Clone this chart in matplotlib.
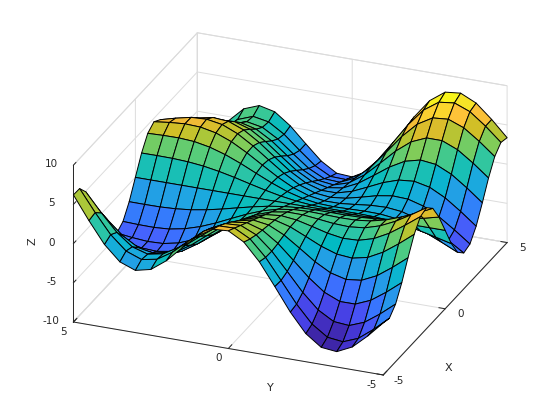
import numpy as np
import matplotlib
matplotlib.use("Agg")
import matplotlib.pyplot as plt
from matplotlib.colors import LinearSegmentedColormap, Normalize

plt.rcParams["axes.unicode_minus"] = False

x_vals = [-5, -4.5, -4, -3.5, -3, -2.5, -2, -1.5, -1, -0.5, 0, 0.5, 1, 1.5, 2, 2.5, 3, 3.5, 4, 4.5, 5]
y_vals = [-5, -4.5, -4, -3.5, -3, -2.5, -2, -1.5, -1, -0.5, 0, 0.5, 1, 1.5, 2, 2.5, 3, 3.5, 4, 4.5, 5]

# one row per y value, left to right in x
z_rows = [
    [-3.37, -3.61, -2.65, -0.76, 1.56, 3.70, 5.12, 5.42, 4.49, 2.54, 0, -2.54, -4.49, -5.42, -5.12, -3.70, -1.56, 0.76, 2.65, 3.61, 3.37],
    [-5.37, -5.35, -4.25, -2.32, 0.00, 2.16, 3.67, 4.17, 3.58, 2.05, 0, -2.05, -3.58, -4.17, -3.67, -2.16, 0.00, 2.32, 4.25, 5.35, 5.37],
    [-7.11, -6.85, -5.64, -3.69, -1.40, 0.76, 2.33, 3.01, 2.72, 1.59, 0, -1.59, -2.72, -3.01, -2.33, -0.76, 1.40, 3.69, 5.64, 6.85, 7.11],
    [-8.04, -7.63, -6.40, -4.51, -2.32, -0.25, 1.31, 2.09, 2.01, 1.21, 0, -1.21, -2.01, -2.09, -1.31, 0.25, 2.32, 4.51, 6.40, 7.63, 8.04],
    [-7.83, -7.39, -6.23, -4.52, -2.55, -0.68, 0.75, 1.50, 1.53, 0.94, 0, -0.94, -1.53, -1.50, -0.75, 0.68, 2.55, 4.52, 6.23, 7.39, 7.83],
    [-6.41, -6.04, -5.09, -3.68, -2.05, -0.50, 0.67, 1.29, 1.30, 0.80, 0, -0.80, -1.30, -1.29, -0.67, 0.50, 2.05, 3.68, 5.09, 6.04, 6.41],
    [-4.00, -3.83, -3.18, -2.16, -0.97, 0.16, 0.99, 1.37, 1.27, 0.75, 0, -0.75, -1.27, -1.37, -0.99, -0.16, 0.97, 2.16, 3.18, 3.83, 4.00],
    [-1.08, -1.15, -0.85, -0.28, 0.42, 1.07, 1.51, 1.60, 1.33, 0.76, 0, -0.76, -1.33, -1.60, -1.51, -1.07, -0.42, 0.28, 0.85, 1.15, 1.08],
    [1.74, 1.45, 1.40, 1.54, 1.76, 1.95, 1.99, 1.81, 1.38, 0.75, 0, -0.75, -1.38, -1.81, -1.99, -1.95, -1.76, -1.54, -1.40, -1.45, -1.74],
    [3.91, 3.46, 3.13, 2.89, 2.70, 2.49, 2.21, 1.82, 1.30, 0.68, 0, -0.68, -1.30, -1.82, -2.21, -2.49, -2.70, -2.89, -3.13, -3.46, -3.91],
    [5.00, 4.50, 4.00, 3.50, 3.00, 2.50, 2.00, 1.50, 1.00, 0.50, 0, -0.50, -1.00, -1.50, -2.00, -2.50, -3.00, -3.50, -4.00, -4.50, -5.00],
    [4.87, 4.44, 3.89, 3.25, 2.56, 1.89, 1.31, 0.82, 0.46, 0.20, 0, -0.20, -0.46, -0.82, -1.31, -1.89, -2.56, -3.25, -3.89, -4.44, -4.87],
    [3.66, 3.41, 2.92, 2.24, 1.48, 0.75, 0.17, -0.19, -0.30, -0.21, 0, 0.21, 0.30, 0.19, -0.17, -0.75, -1.48, -2.24, -2.92, -3.41, -3.66],
    [1.79, 1.79, 1.42, 0.78, 0.00, -0.72, -1.22, -1.39, -1.19, -0.68, 0, 0.68, 1.19, 1.39, 1.22, 0.72, 0.00, -0.78, -1.42, -1.79, -1.79],
    [-0.16, 0.08, -0.15, -0.76, -1.53, -2.24, -2.65, -2.62, -2.10, -1.17, 0, 1.17, 2.10, 2.62, 2.65, 2.24, 1.53, 0.76, 0.15, -0.08, 0.16],
    [-1.61, -1.16, -1.31, -1.92, -2.76, -3.50, -3.87, -3.70, -2.90, -1.60, 0, 1.60, 2.90, 3.70, 3.87, 3.50, 2.76, 1.92, 1.31, 1.16, 1.61],
    [-2.07, -1.53, -1.69, -2.42, -3.39, -4.28, -4.71, -4.48, -3.51, -1.94, 0, 1.94, 3.51, 4.48, 4.71, 4.28, 3.39, 2.42, 1.69, 1.53, 2.07],
    [-1.32, -0.79, -1.10, -2.05, -3.30, -4.43, -5.05, -4.89, -3.89, -2.15, 0, 2.15, 3.89, 4.89, 5.05, 4.43, 3.30, 2.05, 1.10, 0.79, 1.32],
    [0.57, 0.97, 0.42, -0.89, -2.52, -4.02, -4.95, -4.97, -4.02, -2.25, 0, 2.25, 4.02, 4.97, 4.95, 4.02, 2.52, 0.89, -0.42, -0.97, -0.57],
    [3.27, 3.45, 2.57, 0.84, -1.26, -3.22, -4.51, -4.81, -4.00, -2.27, 0, 2.27, 4.00, 4.81, 4.51, 3.22, 1.26, -0.84, -2.57, -3.45, -3.27],
    [6.21, 6.17, 4.91, 2.74, 0.14, -2.28, -3.98, -4.56, -3.93, -2.26, 0, 2.26, 3.93, 4.56, 3.98, 2.28, -0.14, -2.74, -4.91, -6.17, -6.21],
]

xy_ticks = [-5, 0, 5]
z_ticks = [-10, -5, 0, 5, 10]

# parula, every third entry of the 64 step table
parula = LinearSegmentedColormap.from_list("parula", [
    (0.2422, 0.1504, 0.6603), (0.2647, 0.1978, 0.7952), (0.2783, 0.2559, 0.8991),
    (0.2810, 0.3228, 0.9579), (0.2699, 0.3892, 0.9906), (0.2206, 0.4603, 0.9973),
    (0.1786, 0.5289, 0.9682), (0.1540, 0.5902, 0.9218), (0.1248, 0.6459, 0.8883),
    (0.0689, 0.6948, 0.8394), (0.0067, 0.7312, 0.7660), (0.1408, 0.7584, 0.6842),
    (0.2161, 0.7843, 0.5923), (0.3406, 0.8008, 0.4789), (0.5044, 0.7993, 0.3480),
    (0.6720, 0.7793, 0.2227), (0.8203, 0.7498, 0.1535), (0.9393, 0.7288, 0.2100),
    (0.9970, 0.7659, 0.2199), (0.9786, 0.8386, 0.1766), (0.9597, 0.9135, 0.1423),
    (0.9769, 0.9839, 0.0805),
], N=64)

X, Y = np.meshgrid(x_vals, y_vals)
Z = np.array(z_rows)
colors = parula(Normalize(Z.min(), Z.max())(Z))

fig = plt.figure(figsize=(5.6, 4.2), dpi=100)
ax = fig.add_axes([0.1332, 0.0011, 0.75, 1.0], projection="3d", proj_type="ortho")
ax.view_init(elev=25.3, azim=-158.2)
ax.set_box_aspect((1, 1, 0.52), zoom=1.162)

surf = ax.plot_surface(X, Y, Z, rstride=1, cstride=1, facecolors=colors, shade=False,
                       edgecolor="black", linewidth=0.7)
# the box runs past the square axes area, so don't clip the corners
surf.set_clip_on(False)

ax.set_xlim(-5, 5, view_margin=0)
ax.set_ylim(-5, 5, view_margin=0)
ax.set_zlim(-10, 10, view_margin=0)
ax.set_xticks(xy_ticks)
ax.set_yticks(xy_ticks)
ax.set_zticks(z_ticks)
ax.tick_params(labelsize=7.5, colors="#262626", pad=0)

for axis in (ax.xaxis, ax.yaxis, ax.zaxis):
    axis.set_pane_color((1, 1, 1, 1))
    axis.pane.set_edgecolor("#d9d9d9")
    axis.pane.set_linewidth(0.7)
    axis.line.set_color("#262626")
    axis.line.set_linewidth(0.7)
    axis._axinfo["grid"]["color"] = "#dcdcdc"
    axis._axinfo["grid"]["linewidth"] = 0.7
    axis._axinfo["tick"]["inward_factor"] = 0.0
    axis._axinfo["tick"]["linewidth"] = {True: 0.7, False: 0.5}
ax.xaxis._axinfo["tick"]["outward_factor"] = 0.25
ax.yaxis._axinfo["tick"]["outward_factor"] = 0.35
ax.zaxis._axinfo["tick"]["outward_factor"] = 0.25

# nudge the tick labels towards where the reference has them
for lab in ax.get_xticklabels():
    lab.set_va("bottom")
for lab in ax.get_yticklabels():
    lab.set_ha("right")
    lab.set_va("bottom")
for lab in ax.get_zticklabels():
    lab.set_va("bottom")

fig.text(270 / 560, 1 - 388 / 420, "Y", fontsize=8, color="#262626", ha="center", va="center")
fig.text(448 / 560, 1 - 368 / 420, "X", fontsize=8, color="#262626", ha="center", va="center")
fig.text(33 / 560, 1 - 241 / 420, "Z", fontsize=8, color="#262626", ha="center", va="center", rotation=90)

fig.savefig("out.png", dpi=100)
